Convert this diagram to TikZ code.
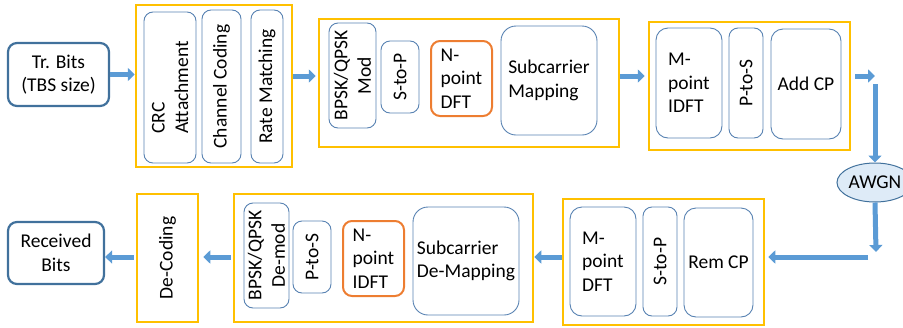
\documentclass[tikz,border=0pt]{standalone}
\usepackage{fontspec}
\setmainfont{Carlito}
\usetikzlibrary{calc, arrows.meta, shapes.geometric}

\definecolor{grpyellow}{RGB}{255,192,0}
\definecolor{dftorange}{RGB}{237,125,49}
\definecolor{edgeblue}{RGB}{65,113,156}
\definecolor{thinblue}{RGB}{88,130,178}
\definecolor{arrowblue}{RGB}{91,155,213}
\definecolor{noisefill}{RGB}{222,235,247}

\begin{document}
\begin{tikzpicture}[x=1pt, y=-1pt,
    every node/.style={font=\fontsize{19.5}{23.5}\selectfont, inner sep=0pt},
    endbox/.style={draw=edgeblue, line width=2.2pt, rounded corners=9pt, align=center},
    group/.style={draw=grpyellow, line width=2.5pt},
    inbox/.style={draw=thinblue, line width=0.9pt, rounded corners=9pt, align=left},
    dftbox/.style={draw=dftorange, line width=2pt, rounded corners=9pt, align=left},
    flow/.style={arrowblue, line width=5pt, -{Triangle[length=7pt, width=13pt]}}]
    \useasboundingbox (0,0) rectangle (903,327);

    % transmitter
    \node[endbox, minimum width=101, minimum height=63] (trbits) at (58.5,74.5) {Tr. Bits\\(TBS size)};

    \node[group, minimum width=156, minimum height=162] (g1) at (214,86) {};
    \node[inbox, rotate=90, minimum width=151, minimum height=52] (crc) at (170,87.5) {CRC\\Attachment};
    \node[inbox, rotate=90, minimum width=153, minimum height=39] (chcod) at (221.5,86.5) {Channel Coding};
    \node[inbox, rotate=90, minimum width=153, minimum height=32] (ratem) at (267,86.5) {Rate Matching};

    \node[group, minimum width=300, minimum height=128] (g2) at (469,83) {};
    \node[inbox, rotate=90, align=center, minimum width=105, minimum height=47] (mod) at (352.5,75.5) {BPSK/QPSK\\Mod};
    \node[inbox, rotate=90, minimum width=72, minimum height=38] (stop) at (400,77) {S-to-P};
    \node[dftbox, minimum width=61, minimum height=75] (dft) at (461.5,78.5) {N-\\point\\DFT};
    \node[inbox, rounded corners=15pt, minimum width=96, minimum height=109] (scmap) at (549,80.5) {Subcarrier\\Mapping};

    \node[group, minimum width=201, minimum height=128] (g3) at (749.5,86) {};
    \node[inbox, rounded corners=12pt, minimum width=66, minimum height=110] (idft) at (689,83) {M-\\point\\IDFT};
    \node[inbox, rotate=90, minimum width=110, minimum height=34] (ptos) at (746,83) {P-to-S};
    \node[inbox, rounded corners=12pt, minimum width=70, minimum height=110] (addcp) at (806,84) {Add CP};

    % channel
    \node[ellipse, draw=edgeblue, fill=noisefill, line width=1pt, minimum width=76, minimum height=39] (awgn) at (875,182.5) {AWGN};

    % receiver
    \node[group, minimum width=201, minimum height=126] (g4) at (663.5,262) {};
    \node[inbox, rounded corners=12pt, minimum width=66, minimum height=109] (mdft) at (603,261.5) {M-\\point\\DFT};
    \node[inbox, rotate=90, minimum width=109, minimum height=34] (stop2) at (660,261.5) {S-to-P};
    \node[inbox, rounded corners=12pt, minimum width=69, minimum height=109] (remcp) at (718.5,262.5) {Rem CP};

    \node[group, minimum width=299, minimum height=128] (g5) at (383.5,258) {};
    \node[inbox, rotate=90, align=center, minimum width=105, minimum height=45] (demod) at (266.5,255.5) {BPSK/QPSK\\De-mod};
    \node[inbox, rotate=90, minimum width=72, minimum height=38] (ptos2) at (312,257) {P-to-S};
    \node[dftbox, minimum width=61, minimum height=75] (idftn) at (373.5,258.5) {N-\\point\\IDFT};
    \node[inbox, rounded corners=15pt, minimum width=106, minimum height=108] (scdemap) at (466,261) {Subcarrier\\De-Mapping};

    \node[group, rotate=90, minimum width=128, minimum height=61] (decod) at (167.5,258) {De-Coding};

    \node[endbox, minimum width=96, minimum height=62] (rxbits) at (56,253) {Received\\Bits};

    % connectors
    \coordinate (top) at (0,76);
    \coordinate (bot) at (0,257);
    \coordinate (turn) at (875,76);
    \coordinate (turn2) at (876,252);

    \draw[flow] (trbits.east) -- (trbits.east -| g1.west);
    \draw[flow] (g1.east |- top) -- ($(g2.west |- top)+(-2,0)$);
    \draw[flow] (g2.east |- top) -- ($(g3.west |- top)+(-3,0)$);
    \draw[flow] ($(g3.east |- top)+(4,0)$) -- (turn);
    \draw[flow] ($(turn)+(0,8)$) -- (awgn.north);
    \draw[flow] (awgn.south) -- (turn2);
    \draw[flow] ($(turn2 |- bot)+(-8,0)$) -- ($(g4.east |- bot)+(3,0)$);
    \draw[flow] (g4.west |- bot) -- (g5.east |- bot);
    \draw[flow] ($(g5.west |- bot)+(-2,0)$) -- ($(decod.south |- bot)+(4,0)$);
    \draw[flow] ($(decod.north |- bot)+(-2,0)$) -- (rxbits.east |- bot);
\end{tikzpicture}
\end{document}
